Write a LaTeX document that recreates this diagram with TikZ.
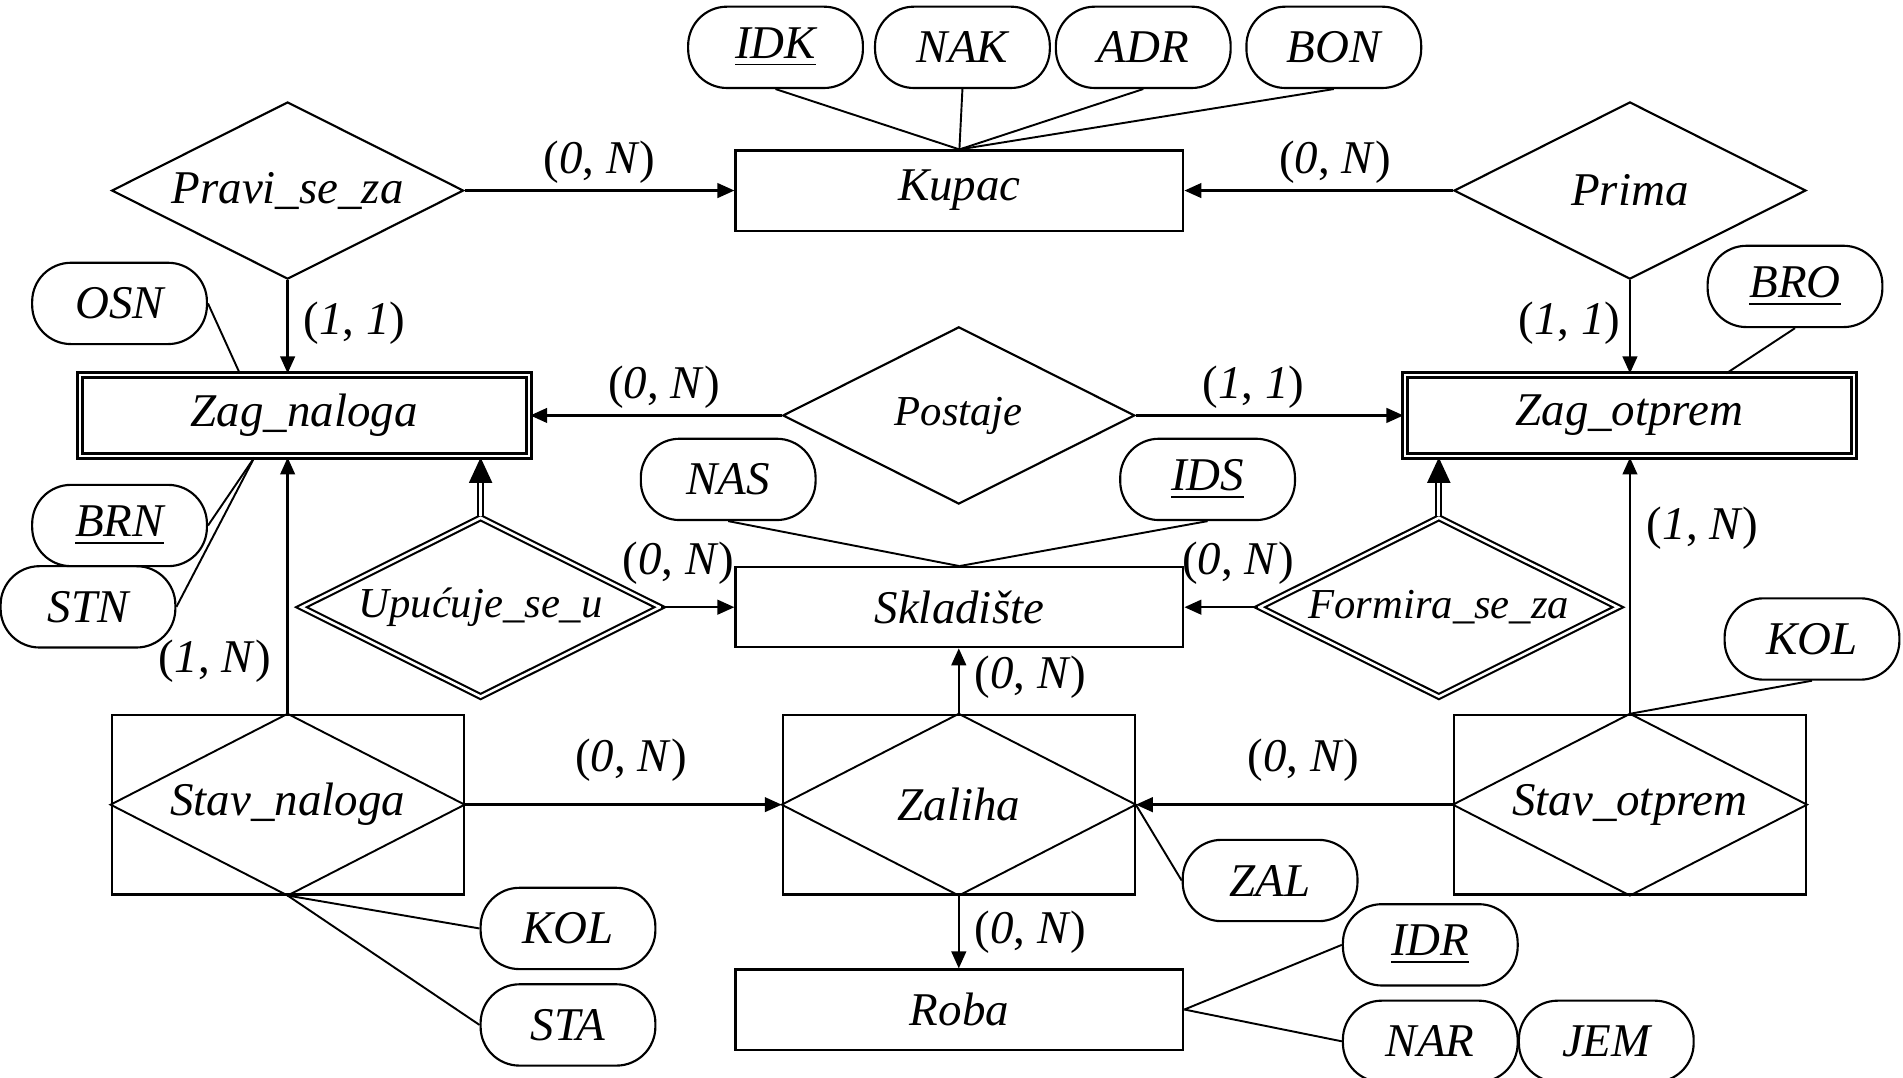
\documentclass[tikz,border=0pt]{standalone}
\usepackage{fontspec}
\setmainfont{Liberation Serif}
\usetikzlibrary{arrows.meta,positioning,shapes.geometric}

\begin{document}
\begin{tikzpicture}[
    every node/.style={font=\fontsize{11}{13}\selectfont},
    entity/.style={draw, line width=0.5pt, minimum width=3.69cm, minimum height=0.66cm, inner sep=0pt, font=\fontsize{11}{13}\selectfont\itshape},
    weakent/.style={entity, double, double distance=0.5pt, line width=0.65pt, minimum width=3.70cm, minimum height=0.67cm},
    relship/.style={draw, diamond, aspect=2, line width=0.5pt, inner sep=0pt, minimum width=2.9cm, minimum height=1.46cm, font=\fontsize{11}{13}\selectfont\itshape},
    weakrel/.style={relship, double, double distance=0.6pt, minimum width=2.96cm, minimum height=1.48cm, font=\fontsize{10}{12}\selectfont\itshape},
    assoc/.style={draw, line width=0.5pt, minimum width=2.9cm, minimum height=1.48cm, inner sep=0pt, font=\fontsize{11}{13}\selectfont\itshape},
    attr/.style={draw, rounded corners=0.32cm, line width=0.5pt, minimum width=1.44cm, minimum height=0.67cm, inner sep=0pt, font=\fontsize{11}{13}\selectfont\itshape},
    arr/.style={-{Triangle[length=1.4mm,width=1.2mm]}, line width=0.6pt},
    dblarr/.style={-{Triangle[length=2.1mm,width=1.9mm]}, double, double distance=0.7pt, line width=0.5pt},
    link/.style={line width=0.45pt}
]
    \useasboundingbox (0,0) rectangle (15.68,8.88);

    % entities
    \node[entity] (kupac) at (7.905, 7.31) {Kupac};
    \node[weakent] (zagn) at (2.507, 5.457) {Zag\_naloga};
    \node[weakent] (zago) at (13.425, 5.457) {Zag\_otprem};
    \node[entity] (sklad) at (7.905, 3.877) {Skladište};
    \node[entity] (roba) at (7.905, 0.562) {Roba};

    % relationships
    \node[relship] (pravi) at (2.37, 7.31) {Pravi\_se\_za};
    \node[relship] (prima) at (13.43, 7.31) {Prima};
    \node[relship, font=\fontsize{10}{12}\selectfont\itshape] (postaje) at (7.90, 5.457) {Postaje};
    \node[weakrel] (upu) at (3.96, 3.877) {Upućuje\_se\_u};
    \node[weakrel] (formira) at (11.855, 3.877) {Formira\_se\_za};

    % aggregations (box with diamond)
    \node[assoc] (stavn) at (2.37, 2.25) {Stav\_naloga};
    \node[assoc] (zaliha) at (7.90, 2.25) {Zaliha};
    \node[assoc] (stavo) at (13.43, 2.25) {Stav\_otprem};
    \draw[link] (stavn.north) -- (stavn.east) -- (stavn.south) -- (stavn.west) -- cycle;
    \draw[link] (zaliha.north) -- (zaliha.east) -- (zaliha.south) -- (zaliha.west) -- cycle;
    \draw[link] (stavo.north) -- (stavo.east) -- (stavo.south) -- (stavo.west) -- cycle;

    % attributes
    \node[attr] (idk) at (6.39, 8.49) {\underline{IDK}};
    \node[attr] (nak) at (7.93, 8.49) {NAK};
    \node[attr] (adr) at (9.42, 8.49) {ADR};
    \node[attr] (bon) at (10.99, 8.49) {BON};
    \node[attr] (osn) at (0.985, 6.38) {OSN};
    \node[attr] (brn) at (0.985, 4.55) {\underline{BRN}};
    \node[attr] (stn) at (0.725, 3.88) {STN};
    \node[attr] (bro) at (14.79, 6.52) {\underline{BRO}};
    \node[attr] (nas) at (6.00, 4.93) {NAS};
    \node[attr] (ids) at (9.95, 4.93) {\underline{IDS}};
    \node[attr] (kolsn) at (4.68, 1.23) {KOL};
    \node[attr] (sta) at (4.68, 0.435) {STA};
    \node[attr] (kolso) at (14.93, 3.615) {KOL};
    \node[attr] (zal) at (10.465, 1.625) {ZAL};
    \node[attr] (idr) at (11.785, 1.095) {\underline{IDR}};
    \node[attr] (nar) at (11.785, 0.30) {NAR};
    \node[attr] (jem) at (13.235, 0.30) {JEM};

    % attribute links
    \draw[link] (idk.south) -- (kupac.north);
    \draw[link] (nak.south) -- (kupac.north);
    \draw[link] (adr.south) -- (kupac.north);
    \draw[link] (bon.south) -- (kupac.north);
    \draw[link] (osn.east) -- ([xshift=1.33cm]zagn.north west);
    \draw[link] (brn.east) -- ([xshift=1.45cm]zagn.south west);
    \draw[link] (stn.east) -- ([xshift=1.45cm]zagn.south west);
    \draw[link] (bro.south) -- ([xshift=2.66cm]zago.north west);
    \draw[link] (nas.south) -- (sklad.north);
    \draw[link] (ids.south) -- (sklad.north);
    \draw[link] (kolsn.west) -- (stavn.south);
    \draw[link] (sta.west) -- (stavn.south);
    \draw[link] (kolso.south) -- (stavo.north);
    \draw[link] (zal.west) -- (zaliha.east);
    \draw[link] (idr.west) -- (roba.east);
    \draw[link] (nar.west) -- (roba.east);

    % connectors
    \draw[arr] (pravi.east) -- (kupac.west);
    \draw[arr] (prima.west) -- (kupac.east);
    \draw[arr] (pravi.south) -- (pravi.south |- zagn.north);
    \draw[arr] (prima.south) -- (prima.south |- zago.north);
    \draw[arr] (postaje.west) -- (zagn.east);
    \draw[arr] (postaje.east) -- (zago.west);
    \draw[arr] (upu.east) -- (sklad.west);
    \draw[arr] (formira.west) -- (sklad.east);
    \draw[dblarr] (upu.north) -- (upu.north |- zagn.south);
    \draw[dblarr] (formira.north) -- (formira.north |- zago.south);
    \draw[arr] (stavn.north) -- (stavn.north |- zagn.south);
    \draw[arr] (stavo.north) -- (stavo.north |- zago.south);
    \draw[arr] (zaliha.north) -- (zaliha.north |- sklad.south);
    \draw[arr] (zaliha.south) -- (zaliha.south |- roba.north);
    \draw[arr] (stavn.east) -- (zaliha.west);
    \draw[arr] (stavo.west) -- (zaliha.east);

    % cardinalities
    \node (c1) at (4.94, 7.54) {(\textit{0}, \textit{N})};
    \node (c2) at (11.00, 7.54) {(\textit{0}, \textit{N})};
    \node (c3) at (2.92, 6.22) {(\textit{1}, \textit{1})};
    \node (c4) at (12.93, 6.22) {(\textit{1}, \textit{1})};
    \node (c5) at (5.47, 5.69) {(\textit{0}, \textit{N})};
    \node (c6) at (10.33, 5.69) {(\textit{1}, \textit{1})};
    \node (c7) at (5.59, 4.24) {(\textit{0}, \textit{N})};
    \node (c8) at (10.20, 4.24) {(\textit{0}, \textit{N})};
    \node (c9) at (8.49, 3.30) {(\textit{0}, \textit{N})};
    \node (c10) at (5.20, 2.62) {(\textit{0}, \textit{N})};
    \node (c11) at (10.74, 2.62) {(\textit{0}, \textit{N})};
    \node (c12) at (8.49, 1.20) {(\textit{0}, \textit{N})};
    \node (c13) at (1.77, 3.43) {(\textit{1}, \textit{N})};
    \node (c14) at (14.03, 4.53) {(\textit{1}, \textit{N})};
\end{tikzpicture}
\end{document}
